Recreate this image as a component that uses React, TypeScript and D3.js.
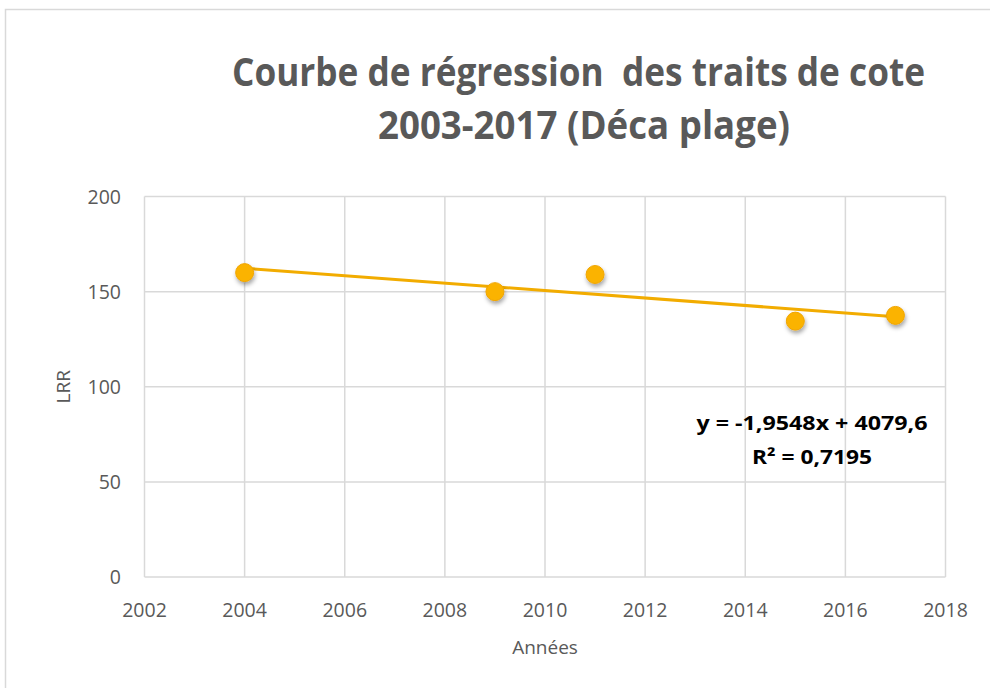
import React from "react";
import * as d3 from "d3";

const years = [2004, 2009, 2011, 2015, 2017];
const lrr = [160, 150, 159, 134.5, 137.5];
const xTicks = [2002, 2004, 2006, 2008, 2010, 2012, 2014, 2016, 2018];
const yTicks = [0, 50, 100, 150, 200];
const titleLines = ["Courbe de régression  des traits de cote", "2003-2017 (Déca plage)"];
const equationLines = ["y = -1,9548x + 4079,6", "R² = 0,7195"];
const xLabel = "Années";
const yLabel = "LRR";

const W = 990;
const H = 688;

export default function App() {
  const x = d3.scaleLinear().domain([2002, 2018]).range([144.5, 945.5]);
  const y = d3.scaleLinear().domain([0, 200]).range([577, 196.5]);

  // least squares trendline from data
  const mx = d3.mean(years)!;
  const my = d3.mean(lrr)!;
  let sxy = 0, sxx = 0;
  years.forEach((v, i) => {
    sxy += (v - mx) * (lrr[i] - my);
    sxx += (v - mx) * (v - mx);
  });
  const slope = sxy / sxx;
  const intercept = my - slope * mx;
  const x0 = d3.min(years)!;
  const x1 = d3.max(years)!;
  const line = d3.line<[number, number]>().x((d) => x(d[0])).y((d) => y(d[1]));
  const trend = line([
    [x0, slope * x0 + intercept],
    [x1, slope * x1 + intercept],
  ]);

  const grid = "#d9d9d9";
  const textCol = "#595959";
  const font = "'Open Sans', sans-serif";

  return (
    <div style={{ position: "fixed", left: 0, top: 0, width: W, height: H, background: "#fff" }}>
      <svg width={W} height={H} style={{ display: "block", fontFamily: font }}>
        <defs>
          <filter id="shadow" x="-50%" y="-50%" width="200%" height="200%">
            <feDropShadow dx="1" dy="3" stdDeviation="2" floodColor="#000" floodOpacity="0.35" />
          </filter>
        </defs>
        <rect x={5.5} y={9.5} width={W + 10} height={H + 10} fill="#fff" stroke={grid} strokeWidth={1.5} />

        {titleLines.map((t, i) => (
          <text
            key={i}
            x={i === 0 ? 578.5 : 584}
            y={i === 0 ? 86 : 139}
            textAnchor="middle"
            fontSize={39}
            fontWeight="bold"
            fill={textCol}
            style={{ whiteSpace: "pre" }}
            textLength={i === 0 ? 693 : 412}
            lengthAdjust="spacingAndGlyphs"
          >
            {t}
          </text>
        ))}

        {/* gridlines */}
        {yTicks.map((t) => (
          <line key={"gy" + t} x1={x(2002)} x2={x(2018)} y1={y(t)} y2={y(t)} stroke={grid} strokeWidth={1.5} />
        ))}
        {xTicks.map((t) => (
          <line key={"gx" + t} x1={x(t)} x2={x(t)} y1={y(0)} y2={y(200)} stroke={grid} strokeWidth={1.5} />
        ))}

        {/* tick labels */}
        {yTicks.map((t) => (
          <text key={"ly" + t} x={121} y={y(t)} dy="0.36em" textAnchor="end" fontSize={19.5} fill={textCol}>
            {t}
          </text>
        ))}
        {xTicks.map((t) => (
          <text key={"lx" + t} x={x(t)} y={617} textAnchor="middle" fontSize={19.5} fill={textCol}>
            {t}
          </text>
        ))}

        <text x={545} y={654} textAnchor="middle" fontSize={19} fill={textCol}>
          {xLabel}
        </text>
        <text
          transform={`translate(70,${y(100)}) rotate(-90)`}
          textAnchor="middle"
          fontSize={19}
          fill={textCol}
        >
          {yLabel}
        </text>

        {/* trendline */}
        <path d={trend || ""} fill="none" stroke="#f2ac00" strokeWidth={3} />

        {/* points */}
        {years.map((v, i) => (
          <circle
            key={"p" + v}
            cx={x(v)}
            cy={y(lrr[i])}
            r={9}
            fill="#fbb300"
            stroke="#f0a500"
            strokeWidth={1}
            filter="url(#shadow)"
          />
        ))}

        {/* equation */}
        {equationLines.map((t, i) => (
          <text
            key={"eq" + i}
            x={812}
            y={i === 0 ? 430 : 464}
            textAnchor="middle"
            fontSize={20}
            fontWeight="bold"
            fill="#000"
            textLength={i === 0 ? 231 : 120}
            lengthAdjust="spacingAndGlyphs"
          >
            {t}
          </text>
        ))}
      </svg>
    </div>
  );
}
